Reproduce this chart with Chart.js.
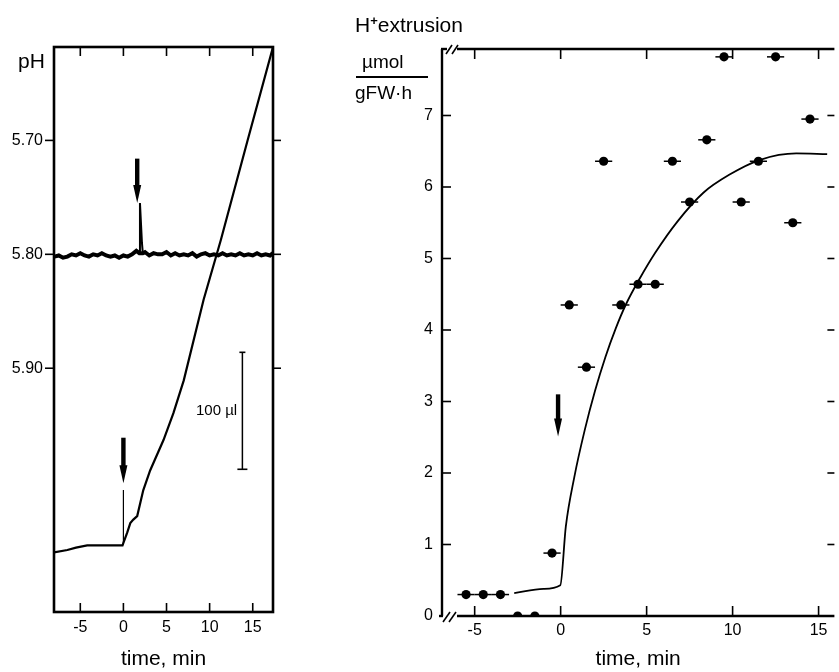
<!DOCTYPE html>
<html>
<head>
<meta charset="utf-8">
<script src="https://cdn.jsdelivr.net/npm/chart.js@4.4.0/dist/chart.umd.min.js"></script>
<style>
  body { margin: 0; background: #fff; }
  #wrap { position: relative; width: 839px; height: 672px; font-family: "Liberation Sans", Arial, sans-serif; color: #000; }
  canvas { position: absolute; left: 0; top: 0; }
  .lbl { position: absolute; white-space: nowrap; line-height: 1; }
</style>
</head>
<body>
<div id="wrap">
  <canvas id="left" width="839" height="672"></canvas>
  <canvas id="right" width="839" height="672"></canvas>
  <div class="lbl" style="left:18px;top:50px;font-size:21px">pH</div>
  <div class="lbl" style="left:196px;top:402px;font-size:15px">100 µl</div>
  <div class="lbl" style="left:355px;top:14px;font-size:21px">H<span style="font-size:13px;vertical-align:top;font-weight:bold">+</span>extrusion</div>
  <div class="lbl" style="left:362px;top:52px;font-size:19px">µmol</div>
  <div style="position:absolute;left:356px;top:76px;width:72px;height:0;border-top:2px solid #000"></div>
  <div class="lbl" style="left:355px;top:83px;font-size:19px">gFW·h</div>
</div>
<script>
// left panel: pH trace (min) and titrant volume (µl)
const phTime = [-8,-7.5,-7,-6.5,-6,-5.5,-5,-4.5,-4,-3.5,-3,-2.5,-2,-1.5,-1,-0.5,0,0.5,1,1.5,1.85,
  2.25,2.5,3,3.5,4,4.5,5,5.5,6,6.5,7,7.5,8,8.5,9,9.5,10,10.5,11,11.5,12,12.5,13,13.5,14,14.5,15,15.5,16,16.5,17,17.35]
const phVal = [5.802,5.801,5.803,5.802,5.800,5.801,5.799,5.801,5.802,5.800,5.801,5.799,5.801,5.802,5.801,5.803,5.801,5.802,5.800,5.797,5.799,
  5.799,5.798,5.801,5.799,5.800,5.800,5.798,5.801,5.799,5.801,5.800,5.801,5.799,5.802,5.800,5.799,5.801,5.800,5.801,5.799,5.801,5.800,5.801,5.799,5.801,5.800,5.801,5.799,5.801,5.800,5.801,5.799]
const spikeTime = [1.85, 1.92, 2.15, 2.25]
const spikeVal = [5.799, 5.755, 5.790, 5.799]
const volTime = [-8.05,-6.5,-5.5,-4.2,-2.1,-0.1,0,0.45,0.8,1.15,1.6,2.3,3.1,4.65,5.8,7.0,9.3,11.3,14.4,17.35]
const volVal = [51,53,55,57,57,57,59,68,76,79,82,104,121,147,170,198,267,318,403,483]
const leftXTicks = [-5, 0, 5, 10, 15]
const phTicks = [5.70, 5.80, 5.90]
const scaleBar = { t: 13.8, from: 122, to: 222 }      // 100 µl
const markLine = { t: 0, from: 6.007, to: 6.055 }     // pH units
const leftArrows = [{ t: 1.6, from: 5.716, to: 5.755 }, { t: 0, from: 5.961, to: 6.001 }]

// right panel: H+ extrusion
const hTime = [-5.5,-4.5,-3.5,-2.5,-1.5,-0.5,0.5,1.5,2.5,3.5,4.5,5.5,6.5,7.5,8.5,9.5,10.5,11.5,12.5,13.5,14.5]
const hVal = [0.30,0.30,0.30,0,0,0.88,4.35,3.48,6.36,4.35,4.64,4.64,6.36,5.79,6.66,7.82,5.79,6.36,7.82,5.50,6.95]
const fitTime = [-2.7,-1.0,-0.02,0.3,0.8,1.4,2.0,2.6,3.2,3.8,4.6,5.5,6.8,8.3,9.8,11.6,13.7,15.5]
const fitVal = [0.32,0.38,0.43,1.25,1.95,2.60,3.15,3.62,4.02,4.36,4.72,5.08,5.52,5.92,6.17,6.38,6.47,6.46]
const rightXTicks = [-5, 0, 5, 10, 15]
const rightYTicks = [0, 1, 2, 3, 4, 5, 6, 7]
const rightArrows = [{ t: -0.15, from: 3.10, to: 2.51 }]

const pts = (xs, ys) => xs.map((x, i) => ({ x, y: ys[i] }))
const tickFont = { family: '"Liberation Sans", Arial, sans-serif', size: 16 }
const titleFont = { family: '"Liberation Sans", Arial, sans-serif', size: 21 }
const noGrid = { display: false, tickLength: 0 }

function line(ctx, x1, y1, x2, y2) {
  ctx.beginPath(); ctx.moveTo(x1, y1); ctx.lineTo(x2, y2); ctx.stroke()
}

function arrow(ctx, px, y1, y2) {
  ctx.fillStyle = '#000'
  ctx.fillRect(px - 2.2, y1, 4.4, y2 - y1 - 16)
  ctx.beginPath()
  ctx.moveTo(px - 4, y2 - 18); ctx.lineTo(px + 4, y2 - 18); ctx.lineTo(px, y2)
  ctx.closePath(); ctx.fill()
}

const leftDeco = {
  id: 'leftDeco',
  afterDraw(chart) {
    const { ctx, chartArea: a, scales: { x, y, vol } } = chart
    ctx.save()
    ctx.strokeStyle = '#000'
    ctx.lineWidth = 2.6
    ctx.strokeRect(a.left, a.top, a.right - a.left, a.bottom - a.top)
    ctx.lineWidth = 1.6
    x.ticks.forEach(t => {
      const px = x.getPixelForValue(t.value)
      line(ctx, px, a.bottom, px, a.bottom - 9)
      line(ctx, px, a.top, px, a.top + 9)
    })
    y.ticks.forEach(t => {
      const py = y.getPixelForValue(t.value)
      line(ctx, a.left - 9, py, a.left, py)
      line(ctx, a.right, py, a.right + 8, py)
    })
    // caps of the 100 µl bar
    const bx = x.getPixelForValue(scaleBar.t)
    line(ctx, bx - 5, vol.getPixelForValue(scaleBar.from), bx + 5, vol.getPixelForValue(scaleBar.from))
    line(ctx, bx - 3, vol.getPixelForValue(scaleBar.to), bx + 3, vol.getPixelForValue(scaleBar.to))
    leftArrows.forEach(r => arrow(ctx, x.getPixelForValue(r.t), y.getPixelForValue(r.from), y.getPixelForValue(r.to)))
    ctx.restore()
  }
}

const rightDeco = {
  id: 'rightDeco',
  afterDraw(chart) {
    const { ctx, chartArea: a, scales: { x, y } } = chart
    ctx.save()
    ctx.strokeStyle = '#000'
    ctx.lineWidth = 2.4
    // axes with break marks
    line(ctx, a.left, a.top, a.left, a.bottom)
    line(ctx, a.left - 1, a.top, a.left + 5, a.top)
    line(ctx, a.left + 15, a.top, a.right, a.top)
    line(ctx, a.left - 3, a.bottom, a.left + 1, a.bottom)
    line(ctx, a.left + 15, a.bottom, a.right, a.bottom)
    ctx.lineWidth = 1.6
    line(ctx, a.left + 4, a.top + 5, a.left + 10, a.top - 4)
    line(ctx, a.left + 10, a.top + 5, a.left + 16, a.top - 4)
    line(ctx, a.left + 1, a.bottom + 6, a.left + 8, a.bottom - 4)
    line(ctx, a.left + 7, a.bottom + 6, a.left + 14, a.bottom - 4)
    x.ticks.forEach(t => {
      const px = x.getPixelForValue(t.value)
      line(ctx, px, a.bottom, px, a.bottom - 10)
      line(ctx, px, a.top, px, a.top + 10)
    })
    y.ticks.forEach(t => {
      if (t.value === 0) return
      const py = y.getPixelForValue(t.value)
      line(ctx, a.left, py, a.left + 9, py)
      line(ctx, a.right - 7, py, a.right, py)
    })
    // horizontal bars: each sample covers one minute
    ctx.lineWidth = 1.5
    hTime.forEach((t, i) => {
      const py = y.getPixelForValue(hVal[i])
      line(ctx, x.getPixelForValue(t - 0.5), py, x.getPixelForValue(t + 0.5), py)
    })
    rightArrows.forEach(r => arrow(ctx, x.getPixelForValue(r.t), y.getPixelForValue(r.from), y.getPixelForValue(r.to)))
    ctx.restore()
  }
}

new Chart(document.getElementById('left'), {
  type: 'scatter',
  data: {
    datasets: [
      { data: pts(phTime, phVal), yAxisID: 'y', showLine: true, borderColor: '#000', borderWidth: 4, pointRadius: 0 },
      { data: pts(spikeTime, spikeVal), yAxisID: 'y', showLine: true, borderColor: '#000', borderWidth: 2, pointRadius: 0 },
      { data: pts(volTime, volVal), yAxisID: 'vol', showLine: true, borderColor: '#000', borderWidth: 2.2, pointRadius: 0 },
      { data: pts([markLine.t, markLine.t], [markLine.from, markLine.to]), yAxisID: 'y', showLine: true, borderColor: '#000', borderWidth: 1.2, pointRadius: 0 },
      { data: pts([scaleBar.t, scaleBar.t], [scaleBar.from, scaleBar.to]), yAxisID: 'vol', showLine: true, borderColor: '#000', borderWidth: 1.5, pointRadius: 0 }
    ]
  },
  options: {
    responsive: false,
    animation: false,
    layout: { padding: { left: 0, top: 47, right: 566, bottom: 0 } },
    plugins: { legend: { display: false }, tooltip: { enabled: false } },
    scales: {
      x: {
        type: 'linear', min: -8.05, max: 17.35,
        afterBuildTicks: s => { s.ticks = leftXTicks.map(v => ({ value: v })) },
        afterFit: s => { s.height = 60; s.paddingLeft = 0; s.paddingRight = 0 },
        grid: noGrid, border: { display: false },
        ticks: { color: '#000', font: tickFont, padding: 6, maxRotation: 0, autoSkip: false },
        title: { display: true, text: 'time, min', color: '#000', font: titleFont, padding: { top: 0, bottom: 0 } }
      },
      y: {
        type: 'linear', reverse: true, min: 5.618, max: 6.114,
        afterBuildTicks: s => { s.ticks = phTicks.map(v => ({ value: v })) },
        afterFit: s => { s.width = 54; s.paddingTop = 0; s.paddingBottom = 0 },
        grid: noGrid, border: { display: false },
        ticks: { color: '#000', font: tickFont, padding: 11, callback: v => v.toFixed(2) }
      },
      vol: { type: 'linear', display: false, min: 0, max: 483 }
    }
  },
  plugins: [leftDeco]
})

new Chart(document.getElementById('right'), {
  type: 'scatter',
  data: {
    datasets: [
      { data: pts(hTime, hVal), showLine: false, pointRadius: 4.6, pointBackgroundColor: '#000', pointBorderWidth: 0 },
      { data: pts(fitTime, fitVal), showLine: true, borderColor: '#000', borderWidth: 1.8, pointRadius: 0, cubicInterpolationMode: 'monotone' }
    ]
  },
  options: {
    responsive: false,
    animation: false,
    layout: { padding: { left: 402, top: 49, right: 0, bottom: 0 } },
    plugins: { legend: { display: false }, tooltip: { enabled: false } },
    scales: {
      x: {
        type: 'linear', min: -6.9, max: 15.92,
        afterBuildTicks: s => { s.ticks = rightXTicks.map(v => ({ value: v })) },
        afterFit: s => { s.height = 56; s.paddingLeft = 0; s.paddingRight = 0 },
        grid: noGrid, border: { display: false },
        ticks: { color: '#000', font: tickFont, padding: 5, maxRotation: 0, autoSkip: false },
        title: { display: true, text: 'time, min', color: '#000', font: titleFont, padding: { top: 0, bottom: 0 } }
      },
      y: {
        type: 'linear', min: 0, max: 7.93,
        afterBuildTicks: s => { s.ticks = rightYTicks.map(v => ({ value: v })) },
        afterFit: s => { s.width = 40; s.paddingTop = 0; s.paddingBottom = 0 },
        grid: noGrid, border: { display: false },
        ticks: { color: '#000', font: tickFont, padding: 9 }
      }
    }
  },
  plugins: [rightDeco]
})
</script>
</body>
</html>
